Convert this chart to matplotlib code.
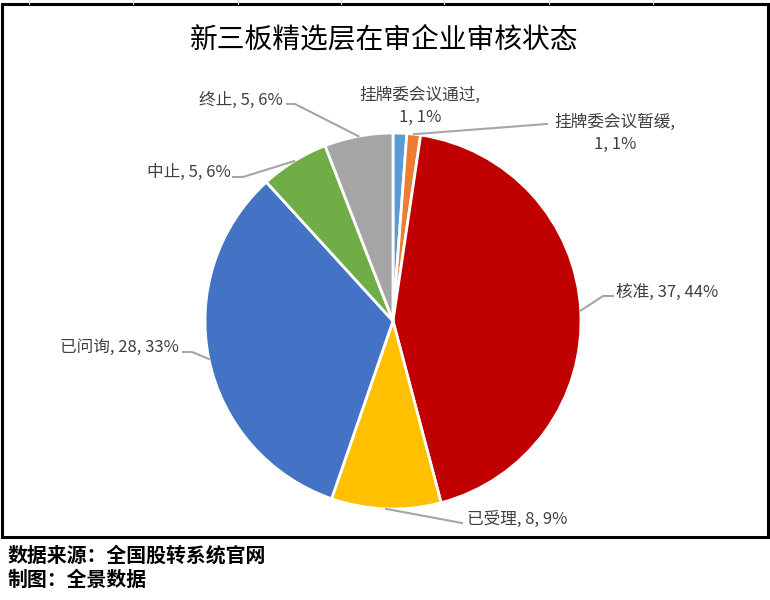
import numpy as np
import matplotlib
matplotlib.use("Agg")
import matplotlib.pyplot as plt
from matplotlib.lines import Line2D
from matplotlib.patches import Rectangle

plt.rcParams['font.family'] = ['Noto Sans CJK SC', 'DejaVu Sans']

# dati
categorie = ["挂牌委会议通过", "挂牌委会议暂缓", "核准", "已受理", "已问询", "中止", "终止"]
valori = [1, 1, 37, 8, 28, 5, 5]
percentuali = ["1%", "1%", "44%", "9%", "33%", "6%", "6%"]
colori = ["#5B9BD5", "#ED7D31", "#C00000", "#FFC000", "#4472C4", "#70AD47", "#A5A5A5"]

W, H = 770, 600
fig = plt.figure(figsize=(W / 100, H / 100), dpi=100)

def px(x, y):
    return x / W, 1 - y / H

# griglia del foglio in alto
for gx in [29, 133, 238, 341, 444, 549, 653]:
    fig.add_artist(Line2D([gx / W, gx / W], [1, 1 - 4 / H], color="#d9d9d9", lw=0.8))

# bordo dell'area grafico
fig.add_artist(Rectangle(px(2, 537), 766 / W, 533 / H, fill=False, ec="black", lw=2.2))

# torta
cx, cy, r = 393, 321, 188
ax = fig.add_axes([(cx - r) / W, (H - cy - r) / H, 2 * r / W, 2 * r / H])
wedges, _ = ax.pie(valori, colors=colori, startangle=90, counterclock=False,
                   wedgeprops=dict(edgecolor="white", linewidth=2))
ax.set_xlim(-1, 1)
ax.set_ylim(-1, 1)
ax.set_aspect("equal")
ax.axis("off")

fig.text(0.5 * (190 + 578) / W, 1 - 39 / H, "新三板精选层在审企业审核状态",
         ha="center", va="center", fontsize=20, color="black")

# posizione etichette (px) e punti di gomito
# (testo x, testo y, ha, punti intermedi)
layout = [
    (420, 106, "center", None),
    (615, 133, "center", [(547, 124)]),
    (616, 292, "left", [(603, 296), (613, 296)]),
    (467, 519, "left", [(462, 523)]),
    (179, 347, "right", [(192, 352), (183, 352)]),
    (231, 172, "right", [(243, 177), (233, 177)]),
    (283, 100, "right", [(295, 104), (287, 104)]),
]

inv = fig.transFigure.inverted()
for i, (w, (tx, ty, ha, pts)) in enumerate(zip(wedges, layout)):
    testo = f"{categorie[i]}, {valori[i]}, {percentuali[i]}"
    if len(categorie[i]) > 4:
        testo = f"{categorie[i]},\n{valori[i]}, {percentuali[i]}"
    fig.text(*px(tx, ty), testo, ha=ha, va="center", fontsize=12,
             color="#404040", linespacing=1.4, multialignment="center")
    if pts is None:
        continue
    ang = np.deg2rad((w.theta1 + w.theta2) / 2)
    a = inv.transform(ax.transData.transform((np.cos(ang), np.sin(ang))))
    xs = [a[0]] + [p[0] / W for p in pts]
    ys = [a[1]] + [1 - p[1] / H for p in pts]
    fig.add_artist(Line2D(xs, ys, color="#a6a6a6", lw=1.5))

# note in basso
fig.text(*px(8, 555), "数据来源：全国股转系统官网", ha="left", va="center",
         fontsize=14.3, fontweight="bold", color="black")
fig.text(*px(8, 579), "制图：全景数据", ha="left", va="center",
         fontsize=14.3, fontweight="bold", color="black")

fig.savefig("out.png", dpi=100, facecolor="white")
